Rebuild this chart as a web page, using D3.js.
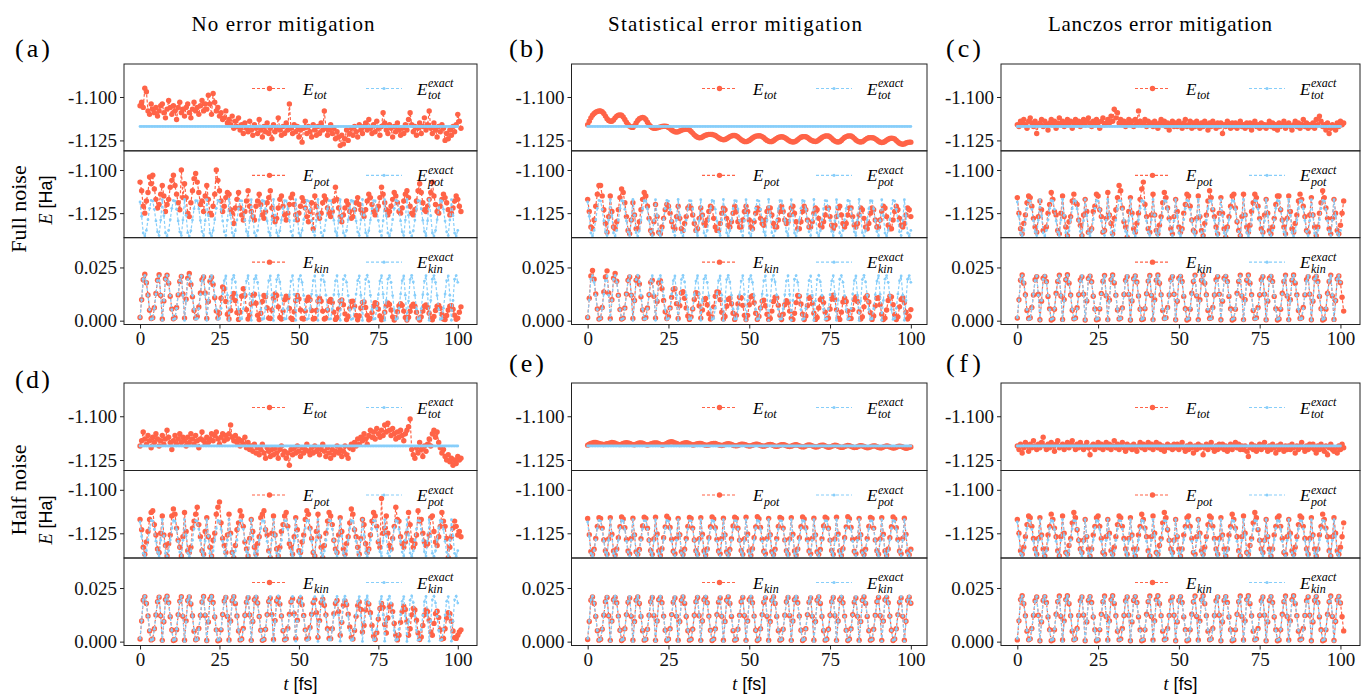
<!DOCTYPE html>
<html><head><meta charset="utf-8">
<script src="https://cdn.jsdelivr.net/npm/d3@7"></script>
<style>body{margin:0;background:#fff}svg{display:block}</style>
</head><body>
<script>
// ---------------- DATA (t step 0.5 fs, starting at t = 0) ----------------
const dt = 0.5;
const xTicks = [0, 25, 50, 75, 100];
const yTicksTot = [-1.100, -1.125], yTicksPot = [-1.100, -1.125], yTicksKin = [0.000, 0.025];
const colTitles = ["No error mitigation", "Statistical error mitigation", "Lanczos error mitigation"];
const rowTitles = ["Full noise", "Half noise"];
const panelLabels = ["(a)", "(b)", "(c)", "(d)", "(e)", "(f)"];

// exact (noise-free) reference, t = 0..100
const exactTot = [
-1.117,-1.117,-1.117,-1.117,-1.117,-1.117,-1.117,-1.117,-1.117,-1.117,-1.117,-1.117,-1.117,-1.117,
-1.117,-1.117,-1.117,-1.117,-1.117,-1.117,-1.117,-1.117,-1.117,-1.117,-1.117,-1.117,-1.117,-1.117,
-1.117,-1.117,-1.117,-1.117,-1.117,-1.117,-1.117,-1.117,-1.117,-1.117,-1.117,-1.117,-1.117,-1.117,
-1.117,-1.117,-1.117,-1.117,-1.117,-1.117,-1.117,-1.117,-1.117,-1.117,-1.117,-1.117,-1.117,-1.117,
-1.117,-1.117,-1.117,-1.117,-1.117,-1.117,-1.117,-1.117,-1.117,-1.117,-1.117,-1.117,-1.117,-1.117,
-1.117,-1.117,-1.117,-1.117,-1.117,-1.117,-1.117,-1.117,-1.117,-1.117,-1.117,-1.117,-1.117,-1.117,
-1.117,-1.117,-1.117,-1.117,-1.117,-1.117,-1.117,-1.117,-1.117,-1.117,-1.117,-1.117,-1.117,-1.117,
-1.117,-1.117,-1.117,-1.117,-1.117,-1.117,-1.117,-1.117,-1.117,-1.117,-1.117,-1.117,-1.117,-1.117,
-1.117,-1.117,-1.117,-1.117,-1.117,-1.117,-1.117,-1.117,-1.117,-1.117,-1.117,-1.117,-1.117,-1.117,
-1.117,-1.117,-1.117,-1.117,-1.117,-1.117,-1.117,-1.117,-1.117,-1.117,-1.117,-1.117,-1.117,-1.117,
-1.117,-1.117,-1.117,-1.117,-1.117,-1.117,-1.117,-1.117,-1.117,-1.117,-1.117,-1.117,-1.117,-1.117,
-1.117,-1.117,-1.117,-1.117,-1.117,-1.117,-1.117,-1.117,-1.117,-1.117,-1.117,-1.117,-1.117,-1.117,
-1.117,-1.117,-1.117,-1.117,-1.117,-1.117,-1.117,-1.117,-1.117,-1.117,-1.117,-1.117,-1.117,-1.117,
-1.117,-1.117,-1.117,-1.117,-1.117,-1.117,-1.117,-1.117,-1.117,-1.117,-1.117,-1.117,-1.117,-1.117,
-1.117,-1.117,-1.117,-1.117,-1.117];
const exactKin = [
0.0015,0.0098,0.0195,0.0212,0.0180,0.0118,0.0052,0.0006,0.0010,0.0058,0.0125,0.0188,0.0210,0.0120,
0.0002,0.0095,0.0195,0.0212,0.0180,0.0118,0.0052,0.0006,0.0010,0.0058,0.0125,0.0188,0.0210,0.0120,
0.0001,0.0092,0.0193,0.0213,0.0182,0.0120,0.0054,0.0007,0.0009,0.0056,0.0122,0.0186,0.0211,0.0124,
0.0002,0.0095,0.0195,0.0212,0.0180,0.0118,0.0052,0.0006,0.0010,0.0058,0.0125,0.0188,0.0210,0.0120,
0.0001,0.0092,0.0193,0.0213,0.0182,0.0120,0.0054,0.0007,0.0009,0.0056,0.0122,0.0186,0.0211,0.0124,
0.0002,0.0095,0.0195,0.0212,0.0180,0.0118,0.0052,0.0006,0.0010,0.0058,0.0125,0.0188,0.0210,0.0120,
0.0001,0.0092,0.0193,0.0213,0.0182,0.0120,0.0054,0.0007,0.0009,0.0056,0.0122,0.0186,0.0211,0.0124,
0.0002,0.0095,0.0195,0.0212,0.0180,0.0118,0.0052,0.0006,0.0010,0.0058,0.0125,0.0188,0.0210,0.0120,
0.0001,0.0092,0.0193,0.0213,0.0182,0.0120,0.0054,0.0007,0.0009,0.0056,0.0122,0.0186,0.0211,0.0124,
0.0002,0.0095,0.0195,0.0212,0.0180,0.0118,0.0052,0.0006,0.0010,0.0058,0.0125,0.0188,0.0210,0.0120,
0.0001,0.0092,0.0193,0.0213,0.0182,0.0120,0.0054,0.0007,0.0009,0.0056,0.0122,0.0186,0.0211,0.0124,
0.0002,0.0095,0.0195,0.0212,0.0180,0.0118,0.0052,0.0006,0.0010,0.0058,0.0125,0.0188,0.0210,0.0120,
0.0001,0.0092,0.0193,0.0213,0.0182,0.0120,0.0054,0.0007,0.0009,0.0056,0.0122,0.0186,0.0211,0.0124,
0.0002,0.0095,0.0195,0.0212,0.0180,0.0118,0.0052,0.0006,0.0010,0.0058,0.0125,0.0188,0.0210,0.0120,
0.0002,0.0095,0.0195,0.0212,0.0180];
const exactPot = [
-1.1185,-1.1268,-1.1365,-1.1382,-1.1350,-1.1288,-1.1222,-1.1176,-1.1180,-1.1228,-1.1295,-1.1358,-1.1380,-1.1290,
-1.1172,-1.1265,-1.1365,-1.1382,-1.1350,-1.1288,-1.1222,-1.1176,-1.1180,-1.1228,-1.1295,-1.1358,-1.1380,-1.1290,
-1.1171,-1.1262,-1.1363,-1.1383,-1.1352,-1.1290,-1.1224,-1.1177,-1.1179,-1.1226,-1.1292,-1.1356,-1.1381,-1.1294,
-1.1172,-1.1265,-1.1365,-1.1382,-1.1350,-1.1288,-1.1222,-1.1176,-1.1180,-1.1228,-1.1295,-1.1358,-1.1380,-1.1290,
-1.1171,-1.1262,-1.1363,-1.1383,-1.1352,-1.1290,-1.1224,-1.1177,-1.1179,-1.1226,-1.1292,-1.1356,-1.1381,-1.1294,
-1.1172,-1.1265,-1.1365,-1.1382,-1.1350,-1.1288,-1.1222,-1.1176,-1.1180,-1.1228,-1.1295,-1.1358,-1.1380,-1.1290,
-1.1171,-1.1262,-1.1363,-1.1383,-1.1352,-1.1290,-1.1224,-1.1177,-1.1179,-1.1226,-1.1292,-1.1356,-1.1381,-1.1294,
-1.1172,-1.1265,-1.1365,-1.1382,-1.1350,-1.1288,-1.1222,-1.1176,-1.1180,-1.1228,-1.1295,-1.1358,-1.1380,-1.1290,
-1.1171,-1.1262,-1.1363,-1.1383,-1.1352,-1.1290,-1.1224,-1.1177,-1.1179,-1.1226,-1.1292,-1.1356,-1.1381,-1.1294,
-1.1172,-1.1265,-1.1365,-1.1382,-1.1350,-1.1288,-1.1222,-1.1176,-1.1180,-1.1228,-1.1295,-1.1358,-1.1380,-1.1290,
-1.1171,-1.1262,-1.1363,-1.1383,-1.1352,-1.1290,-1.1224,-1.1177,-1.1179,-1.1226,-1.1292,-1.1356,-1.1381,-1.1294,
-1.1172,-1.1265,-1.1365,-1.1382,-1.1350,-1.1288,-1.1222,-1.1176,-1.1180,-1.1228,-1.1295,-1.1358,-1.1380,-1.1290,
-1.1171,-1.1262,-1.1363,-1.1383,-1.1352,-1.1290,-1.1224,-1.1177,-1.1179,-1.1226,-1.1292,-1.1356,-1.1381,-1.1294,
-1.1172,-1.1265,-1.1365,-1.1382,-1.1350,-1.1288,-1.1222,-1.1176,-1.1180,-1.1228,-1.1295,-1.1358,-1.1380,-1.1290,
-1.1172,-1.1265,-1.1365,-1.1382,-1.1350];

// (a) full noise, no mitigation, t = 0..101
const aTot = [
-1.105,-1.103,-1.106,-1.095,-1.097,-1.108,-1.110,-1.104,-1.107,-1.109,-1.106,-1.111,-1.108,-1.105,
-1.104,-1.109,-1.112,-1.107,-1.102,-1.106,-1.110,-1.105,-1.108,-1.113,-1.106,-1.103,-1.109,-1.107,
-1.111,-1.106,-1.104,-1.109,-1.112,-1.107,-1.103,-1.108,-1.106,-1.110,-1.105,-1.102,-1.108,-1.104,
-1.107,-1.099,-1.104,-1.110,-1.098,-1.103,-1.108,-1.106,-1.111,-1.109,-1.113,-1.112,-1.108,-1.115,
-1.113,-1.116,-1.111,-1.118,-1.114,-1.117,-1.112,-1.119,-1.116,-1.121,-1.115,-1.118,-1.120,-1.114,
-1.119,-1.122,-1.116,-1.118,-1.121,-1.113,-1.119,-1.123,-1.117,-1.120,-1.115,-1.121,-1.118,-1.124,
-1.116,-1.120,-1.118,-1.112,-1.119,-1.122,-1.117,-1.121,-1.115,-1.119,-1.104,-1.118,-1.121,-1.116,
-1.120,-1.117,-1.123,-1.119,-1.126,-1.118,-1.114,-1.121,-1.117,-1.120,-1.123,-1.116,-1.119,-1.122,
-1.117,-1.121,-1.115,-1.119,-1.108,-1.118,-1.122,-1.119,-1.116,-1.121,-1.118,-1.124,-1.120,-1.123,
-1.128,-1.122,-1.127,-1.124,-1.119,-1.125,-1.121,-1.118,-1.122,-1.117,-1.120,-1.123,-1.116,-1.119,
-1.121,-1.117,-1.115,-1.119,-1.113,-1.118,-1.121,-1.116,-1.120,-1.114,-1.118,-1.122,-1.117,-1.109,
-1.115,-1.119,-1.121,-1.116,-1.118,-1.123,-1.117,-1.120,-1.115,-1.119,-1.122,-1.118,-1.121,-1.116,
-1.119,-1.113,-1.109,-1.116,-1.120,-1.117,-1.122,-1.118,-1.115,-1.121,-1.117,-1.112,-1.119,-1.116,
-1.108,-1.118,-1.121,-1.115,-1.119,-1.123,-1.117,-1.120,-1.116,-1.118,-1.125,-1.121,-1.124,-1.119,
-1.122,-1.117,-1.120,-1.116,-1.110,-1.114,-1.118];
const aPot = [
-1.107,-1.112,-1.121,-1.125,-1.118,-1.113,-1.104,-1.108,-1.103,-1.111,-1.117,-1.122,-1.120,-1.114,
-1.109,-1.115,-1.124,-1.120,-1.117,-1.110,-1.106,-1.103,-1.109,-1.114,-1.119,-1.123,-1.100,-1.116,
-1.108,-1.116,-1.125,-1.127,-1.119,-1.112,-1.105,-1.102,-1.107,-1.113,-1.120,-1.118,-1.124,-1.115,
-1.109,-1.117,-1.125,-1.126,-1.121,-1.114,-1.100,-1.106,-1.112,-1.118,-1.124,-1.121,-1.116,-1.113,
-1.114,-1.123,-1.125,-1.131,-1.122,-1.117,-1.113,-1.122,-1.126,-1.129,-1.124,-1.118,-1.112,-1.121,
-1.124,-1.127,-1.129,-1.121,-1.118,-1.114,-1.120,-1.126,-1.128,-1.124,-1.119,-1.116,-1.112,-1.122,
-1.127,-1.130,-1.128,-1.122,-1.117,-1.115,-1.121,-1.126,-1.129,-1.125,-1.120,-1.116,-1.114,-1.120,
-1.126,-1.129,-1.125,-1.121,-1.116,-1.118,-1.122,-1.127,-1.130,-1.124,-1.119,-1.134,-1.115,-1.121,
-1.126,-1.128,-1.125,-1.119,-1.115,-1.117,-1.122,-1.125,-1.127,-1.124,-1.118,-1.110,-1.117,-1.122,
-1.127,-1.130,-1.126,-1.122,-1.118,-1.120,-1.124,-1.128,-1.127,-1.123,-1.119,-1.116,-1.120,-1.123,
-1.125,-1.127,-1.123,-1.118,-1.114,-1.116,-1.120,-1.124,-1.126,-1.123,-1.121,-1.116,-1.110,-1.114,
-1.119,-1.123,-1.126,-1.124,-1.121,-1.117,-1.113,-1.115,-1.119,-1.124,-1.125,-1.122,-1.118,-1.114,
-1.112,-1.116,-1.121,-1.125,-1.126,-1.123,-1.118,-1.112,-1.108,-1.113,-1.119,-1.123,-1.124,-1.121,
-1.117,-1.113,-1.107,-1.115,-1.120,-1.124,-1.125,-1.121,-1.117,-1.114,-1.116,-1.119,-1.123,-1.126,
-1.125,-1.122,-1.118,-1.115,-1.117,-1.121,-1.124];
const aKin = [
0.0015,0.0098,0.0192,0.0218,0.0178,0.0121,0.0049,0.0010,0.0014,0.0061,0.0128,0.0190,0.0216,0.0118,
0.0008,0.0092,0.0197,0.0214,0.0176,0.0115,0.0055,0.0009,0.0015,0.0062,0.0121,0.0184,0.0208,0.0125,
0.0012,0.0101,0.0200,0.0222,0.0170,0.0112,0.0048,0.0012,0.0020,0.0064,0.0130,0.0192,0.0205,0.0130,
0.0010,0.0090,0.0185,0.0204,0.0170,0.0108,0.0045,0.0012,0.0035,0.0105,0.0158,0.0150,0.0090,0.0030,
0.0008,0.0048,0.0110,0.0128,0.0095,0.0038,0.0006,0.0040,0.0115,0.0150,0.0118,0.0052,0.0008,0.0025,
0.0078,0.0120,0.0124,0.0082,0.0025,0.0005,0.0035,0.0090,0.0118,0.0112,0.0060,0.0012,0.0010,0.0050,
0.0105,0.0125,0.0118,0.0065,0.0015,0.0008,0.0045,0.0098,0.0115,0.0108,0.0058,0.0012,0.0006,0.0042,
0.0095,0.0118,0.0102,0.0050,0.0010,0.0008,0.0045,0.0095,0.0110,0.0098,0.0048,0.0008,0.0010,0.0048,
0.0092,0.0105,0.0092,0.0045,0.0008,0.0012,0.0050,0.0090,0.0100,0.0085,0.0040,0.0006,0.0015,0.0055,
0.0092,0.0097,0.0075,0.0032,0.0005,0.0020,0.0058,0.0090,0.0092,0.0068,0.0025,0.0004,0.0022,0.0060,
0.0086,0.0088,0.0062,0.0025,0.0004,0.0010,0.0038,0.0068,0.0084,0.0080,0.0055,0.0022,0.0004,0.0012,
0.0040,0.0070,0.0083,0.0076,0.0050,0.0018,0.0003,0.0014,0.0042,0.0070,0.0080,0.0072,0.0045,0.0015,
0.0003,0.0016,0.0044,0.0068,0.0077,0.0068,0.0040,0.0012,0.0003,0.0018,0.0045,0.0068,0.0074,0.0062,
0.0035,0.0010,0.0004,0.0020,0.0048,0.0068,0.0072,0.0058,0.0030,0.0008,0.0005,0.0024,0.0050,0.0068,
0.0070,0.0054,0.0026,0.0007,0.0012,0.0040,0.0065];

// (b) full noise, statistical mitigation, t = 0..100
const bTot = [
-1.1160,-1.1140,-1.1120,-1.1105,-1.1095,-1.1088,-1.1083,-1.1080,-1.1080,-1.1085,-1.1095,-1.1110,-1.1125,-1.1135,
-1.1140,-1.1140,-1.1132,-1.1120,-1.1110,-1.1105,-1.1103,-1.1105,-1.1115,-1.1130,-1.1145,-1.1158,-1.1168,-1.1174,
-1.1175,-1.1165,-1.1150,-1.1135,-1.1125,-1.1120,-1.1118,-1.1120,-1.1130,-1.1145,-1.1160,-1.1170,-1.1177,-1.1180,
-1.1180,-1.1178,-1.1175,-1.1172,-1.1170,-1.1168,-1.1168,-1.1170,-1.1175,-1.1182,-1.1190,-1.1196,-1.1200,-1.1202,
-1.1200,-1.1196,-1.1192,-1.1188,-1.1186,-1.1185,-1.1186,-1.1190,-1.1198,-1.1208,-1.1218,-1.1226,-1.1232,-1.1235,
-1.1234,-1.1230,-1.1225,-1.1220,-1.1217,-1.1215,-1.1215,-1.1216,-1.1218,-1.1222,-1.1228,-1.1234,-1.1240,-1.1244,
-1.1246,-1.1245,-1.1240,-1.1234,-1.1228,-1.1224,-1.1222,-1.1222,-1.1224,-1.1230,-1.1238,-1.1246,-1.1252,-1.1256,
-1.1257,-1.1255,-1.1250,-1.1243,-1.1236,-1.1230,-1.1226,-1.1224,-1.1223,-1.1224,-1.1228,-1.1235,-1.1243,-1.1250,
-1.1255,-1.1257,-1.1256,-1.1252,-1.1245,-1.1238,-1.1233,-1.1230,-1.1229,-1.1230,-1.1234,-1.1240,-1.1247,-1.1253,
-1.1257,-1.1259,-1.1258,-1.1253,-1.1246,-1.1238,-1.1232,-1.1229,-1.1228,-1.1229,-1.1233,-1.1240,-1.1247,-1.1252,
-1.1255,-1.1256,-1.1254,-1.1248,-1.1240,-1.1233,-1.1228,-1.1225,-1.1224,-1.1225,-1.1230,-1.1238,-1.1247,-1.1254,
-1.1258,-1.1259,-1.1257,-1.1250,-1.1241,-1.1233,-1.1228,-1.1225,-1.1224,-1.1225,-1.1230,-1.1238,-1.1247,-1.1254,
-1.1258,-1.1259,-1.1257,-1.1251,-1.1244,-1.1238,-1.1235,-1.1234,-1.1234,-1.1236,-1.1241,-1.1248,-1.1255,-1.1260,
-1.1262,-1.1261,-1.1256,-1.1249,-1.1243,-1.1239,-1.1237,-1.1238,-1.1242,-1.1250,-1.1259,-1.1266,-1.1270,-1.1272,
-1.1270,-1.1265,-1.1262,-1.1260,-1.1260];
const bPot = [
-1.117,-1.124,-1.133,-1.134,-1.129,-1.121,-1.114,-1.109,-1.109,-1.115,-1.123,-1.131,-1.136,-1.127,
-1.115,-1.124,-1.133,-1.134,-1.130,-1.123,-1.116,-1.111,-1.113,-1.119,-1.127,-1.135,-1.137,-1.129,
-1.119,-1.126,-1.134,-1.134,-1.130,-1.123,-1.117,-1.113,-1.115,-1.121,-1.128,-1.135,-1.137,-1.130,
-1.120,-1.127,-1.136,-1.137,-1.133,-1.128,-1.123,-1.120,-1.121,-1.125,-1.130,-1.133,-1.134,-1.127,
-1.121,-1.128,-1.134,-1.135,-1.131,-1.127,-1.122,-1.121,-1.122,-1.126,-1.131,-1.135,-1.134,-1.128,
-1.122,-1.126,-1.131,-1.132,-1.129,-1.124,-1.121,-1.122,-1.128,-1.133,-1.135,-1.135,-1.131,-1.125,
-1.122,-1.123,-1.128,-1.132,-1.133,-1.130,-1.125,-1.121,-1.124,-1.130,-1.133,-1.133,-1.129,-1.124,
-1.121,-1.124,-1.129,-1.133,-1.134,-1.130,-1.125,-1.122,-1.123,-1.128,-1.131,-1.132,-1.129,-1.124,
-1.122,-1.122,-1.126,-1.131,-1.133,-1.133,-1.129,-1.124,-1.121,-1.124,-1.129,-1.131,-1.130,-1.126,
-1.122,-1.121,-1.125,-1.130,-1.134,-1.134,-1.130,-1.124,-1.121,-1.123,-1.129,-1.133,-1.133,-1.130,
-1.125,-1.122,-1.123,-1.128,-1.132,-1.133,-1.130,-1.126,-1.122,-1.122,-1.127,-1.132,-1.134,-1.132,
-1.127,-1.122,-1.121,-1.126,-1.131,-1.133,-1.131,-1.126,-1.122,-1.122,-1.127,-1.132,-1.133,-1.131,
-1.126,-1.122,-1.123,-1.128,-1.133,-1.134,-1.131,-1.125,-1.122,-1.123,-1.129,-1.133,-1.133,-1.129,
-1.124,-1.121,-1.122,-1.127,-1.132,-1.134,-1.134,-1.129,-1.124,-1.121,-1.123,-1.128,-1.132,-1.133,
-1.131,-1.126,-1.122,-1.123,-1.127];
const bKin = [
0.0015,0.0105,0.0210,0.0236,0.0195,0.0125,0.0055,0.0008,0.0012,0.0062,0.0135,0.0205,0.0234,0.0130,
0.0010,0.0098,0.0200,0.0222,0.0185,0.0120,0.0052,0.0008,0.0012,0.0060,0.0125,0.0190,0.0205,0.0120,
0.0010,0.0095,0.0190,0.0206,0.0172,0.0112,0.0050,0.0010,0.0015,0.0060,0.0122,0.0180,0.0190,0.0115,
0.0012,0.0090,0.0178,0.0188,0.0150,0.0095,0.0042,0.0010,0.0020,0.0060,0.0110,0.0148,0.0150,0.0080,
0.0010,0.0070,0.0130,0.0136,0.0105,0.0060,0.0022,0.0006,0.0018,0.0055,0.0100,0.0132,0.0128,0.0070,
0.0012,0.0050,0.0098,0.0104,0.0075,0.0032,0.0008,0.0018,0.0065,0.0115,0.0135,0.0134,0.0098,0.0040,
0.0008,0.0020,0.0068,0.0100,0.0105,0.0080,0.0035,0.0006,0.0025,0.0078,0.0110,0.0108,0.0072,0.0025,
0.0005,0.0025,0.0075,0.0112,0.0117,0.0085,0.0035,0.0006,0.0020,0.0060,0.0092,0.0096,0.0070,0.0030,
0.0006,0.0010,0.0045,0.0090,0.0110,0.0108,0.0072,0.0025,0.0005,0.0030,0.0075,0.0094,0.0085,0.0045,
0.0012,0.0006,0.0035,0.0085,0.0118,0.0115,0.0078,0.0030,0.0005,0.0022,0.0070,0.0105,0.0110,0.0080,
0.0035,0.0006,0.0015,0.0060,0.0098,0.0108,0.0085,0.0040,0.0008,0.0012,0.0055,0.0102,0.0120,0.0100,
0.0052,0.0012,0.0006,0.0040,0.0088,0.0105,0.0090,0.0045,0.0010,0.0010,0.0052,0.0098,0.0112,0.0090,
0.0042,0.0008,0.0018,0.0065,0.0108,0.0117,0.0088,0.0038,0.0006,0.0022,0.0070,0.0105,0.0108,0.0075,
0.0030,0.0005,0.0012,0.0050,0.0095,0.0115,0.0112,0.0075,0.0028,0.0005,0.0018,0.0065,0.0100,0.0108,
0.0085,0.0040,0.0008,0.0020,0.0052];

// (c) full noise, Lanczos mitigation, t = 0..101
const cTot = [
-1.116,-1.117,-1.114,-1.115,-1.113,-1.116,-1.118,-1.114,-1.112,-1.115,-1.117,-1.114,-1.121,-1.116,
-1.115,-1.113,-1.117,-1.114,-1.116,-1.119,-1.115,-1.113,-1.116,-1.114,-1.118,-1.115,-1.112,-1.116,
-1.114,-1.117,-1.115,-1.113,-1.116,-1.114,-1.118,-1.115,-1.113,-1.116,-1.114,-1.117,-1.115,-1.113,
-1.116,-1.114,-1.112,-1.115,-1.117,-1.114,-1.116,-1.113,-1.115,-1.118,-1.114,-1.112,-1.116,-1.115,
-1.113,-1.115,-1.111,-1.114,-1.107,-1.112,-1.109,-1.115,-1.113,-1.116,-1.114,-1.117,-1.115,-1.113,
-1.116,-1.114,-1.117,-1.113,-1.115,-1.108,-1.114,-1.116,-1.115,-1.113,-1.117,-1.114,-1.116,-1.115,
-1.117,-1.114,-1.116,-1.118,-1.115,-1.113,-1.116,-1.114,-1.117,-1.115,-1.119,-1.116,-1.114,-1.117,
-1.115,-1.117,-1.114,-1.116,-1.118,-1.115,-1.113,-1.117,-1.116,-1.114,-1.118,-1.115,-1.117,-1.114,
-1.116,-1.118,-1.115,-1.117,-1.114,-1.116,-1.119,-1.115,-1.117,-1.114,-1.116,-1.118,-1.115,-1.117,
-1.115,-1.121,-1.116,-1.117,-1.114,-1.116,-1.118,-1.115,-1.117,-1.115,-1.118,-1.116,-1.114,-1.117,
-1.116,-1.118,-1.115,-1.117,-1.115,-1.119,-1.116,-1.114,-1.117,-1.116,-1.118,-1.115,-1.117,-1.116,
-1.118,-1.116,-1.114,-1.117,-1.115,-1.118,-1.116,-1.119,-1.115,-1.117,-1.116,-1.114,-1.118,-1.116,
-1.115,-1.117,-1.119,-1.116,-1.114,-1.117,-1.115,-1.118,-1.116,-1.113,-1.117,-1.115,-1.118,-1.116,
-1.117,-1.115,-1.118,-1.113,-1.116,-1.111,-1.114,-1.117,-1.116,-1.119,-1.115,-1.121,-1.118,-1.116,
-1.117,-1.119,-1.115,-1.117,-1.114,-1.116,-1.115];
const cPot = [
-1.116,-1.125,-1.134,-1.137,-1.131,-1.126,-1.119,-1.115,-1.116,-1.121,-1.128,-1.133,-1.136,-1.127,
-1.118,-1.123,-1.135,-1.134,-1.133,-1.125,-1.120,-1.113,-1.117,-1.124,-1.126,-1.135,-1.137,-1.125,
-1.115,-1.127,-1.133,-1.138,-1.130,-1.127,-1.118,-1.114,-1.119,-1.120,-1.129,-1.132,-1.138,-1.126,
-1.117,-1.124,-1.136,-1.135,-1.134,-1.124,-1.121,-1.114,-1.115,-1.123,-1.127,-1.136,-1.135,-1.128,
-1.113,-1.126,-1.131,-1.137,-1.128,-1.123,-1.116,-1.109,-1.112,-1.122,-1.130,-1.133,-1.139,-1.124,
-1.116,-1.125,-1.134,-1.136,-1.131,-1.125,-1.117,-1.111,-1.107,-1.120,-1.127,-1.134,-1.136,-1.126,
-1.114,-1.126,-1.135,-1.137,-1.132,-1.127,-1.119,-1.113,-1.116,-1.122,-1.128,-1.134,-1.137,-1.127,
-1.117,-1.124,-1.133,-1.136,-1.134,-1.125,-1.120,-1.114,-1.115,-1.121,-1.129,-1.135,-1.136,-1.128,
-1.115,-1.127,-1.135,-1.138,-1.131,-1.126,-1.118,-1.112,-1.116,-1.123,-1.127,-1.133,-1.137,-1.125,
-1.116,-1.125,-1.134,-1.139,-1.133,-1.127,-1.121,-1.115,-1.114,-1.122,-1.130,-1.135,-1.138,-1.127,
-1.114,-1.126,-1.133,-1.136,-1.132,-1.124,-1.119,-1.114,-1.116,-1.121,-1.128,-1.134,-1.136,-1.126,
-1.117,-1.125,-1.135,-1.137,-1.133,-1.128,-1.120,-1.115,-1.115,-1.123,-1.129,-1.133,-1.137,-1.128,
-1.115,-1.124,-1.134,-1.136,-1.131,-1.126,-1.118,-1.114,-1.117,-1.121,-1.127,-1.135,-1.136,-1.126,
-1.116,-1.126,-1.133,-1.138,-1.133,-1.125,-1.119,-1.112,-1.116,-1.122,-1.128,-1.134,-1.137,-1.128,
-1.117,-1.125,-1.135,-1.137,-1.132,-1.125,-1.118];
const cKin = [
0.0012,0.0098,0.0190,0.0215,0.0176,0.0122,0.0048,0.0010,0.0014,0.0062,0.0121,0.0192,0.0207,0.0124,
0.0004,0.0091,0.0199,0.0208,0.0184,0.0114,0.0056,0.0003,0.0008,0.0054,0.0129,0.0184,0.0214,0.0116,
0.0006,0.0099,0.0192,0.0216,0.0176,0.0121,0.0049,0.0009,0.0013,0.0061,0.0122,0.0191,0.0206,0.0124,
0.0003,0.0092,0.0198,0.0209,0.0183,0.0115,0.0055,0.0004,0.0007,0.0055,0.0128,0.0185,0.0213,0.0117,
0.0005,0.0097,0.0193,0.0215,0.0177,0.0120,0.0050,0.0008,0.0012,0.0060,0.0123,0.0190,0.0207,0.0123,
0.0003,0.0093,0.0197,0.0210,0.0182,0.0116,0.0054,0.0005,0.0008,0.0056,0.0127,0.0186,0.0212,0.0118,
0.0005,0.0098,0.0190,0.0215,0.0176,0.0122,0.0048,0.0010,0.0014,0.0062,0.0121,0.0192,0.0207,0.0124,
0.0004,0.0091,0.0199,0.0208,0.0184,0.0114,0.0056,0.0003,0.0008,0.0054,0.0129,0.0184,0.0214,0.0116,
0.0005,0.0098,0.0190,0.0215,0.0176,0.0122,0.0048,0.0010,0.0014,0.0062,0.0121,0.0192,0.0207,0.0124,
0.0004,0.0091,0.0199,0.0208,0.0184,0.0114,0.0056,0.0003,0.0008,0.0054,0.0129,0.0184,0.0214,0.0116,
0.0005,0.0098,0.0190,0.0215,0.0176,0.0122,0.0048,0.0010,0.0014,0.0062,0.0121,0.0192,0.0207,0.0124,
0.0004,0.0091,0.0199,0.0208,0.0184,0.0114,0.0056,0.0003,0.0008,0.0054,0.0129,0.0184,0.0214,0.0116,
0.0005,0.0098,0.0190,0.0215,0.0176,0.0122,0.0048,0.0010,0.0014,0.0062,0.0121,0.0192,0.0207,0.0124,
0.0004,0.0091,0.0199,0.0208,0.0184,0.0114,0.0056,0.0003,0.0008,0.0054,0.0129,0.0184,0.0214,0.0116,
0.0006,0.0094,0.0196,0.0210,0.0178,0.0110,0.0045];

// (d) half noise, no mitigation, t = 0..101
const dTot = [
-1.117,-1.114,-1.109,-1.113,-1.116,-1.111,-1.114,-1.118,-1.112,-1.115,-1.110,-1.113,-1.117,-1.114,
-1.111,-1.116,-1.113,-1.108,-1.112,-1.115,-1.119,-1.114,-1.111,-1.116,-1.113,-1.110,-1.115,-1.112,
-1.114,-1.117,-1.112,-1.115,-1.110,-1.113,-1.116,-1.111,-1.114,-1.118,-1.113,-1.109,-1.114,-1.116,
-1.112,-1.115,-1.113,-1.110,-1.114,-1.111,-1.109,-1.113,-1.116,-1.112,-1.110,-1.114,-1.111,-1.113,
-1.110,-1.105,-1.112,-1.114,-1.111,-1.115,-1.113,-1.117,-1.114,-1.116,-1.112,-1.118,-1.115,-1.119,
-1.117,-1.120,-1.116,-1.121,-1.118,-1.122,-1.119,-1.116,-1.121,-1.124,-1.118,-1.120,-1.123,-1.119,
-1.122,-1.118,-1.121,-1.124,-1.119,-1.117,-1.122,-1.120,-1.124,-1.121,-1.128,-1.119,-1.122,-1.118,
-1.121,-1.117,-1.120,-1.123,-1.118,-1.121,-1.119,-1.116,-1.120,-1.122,-1.118,-1.121,-1.117,-1.120,
-1.118,-1.122,-1.119,-1.116,-1.120,-1.123,-1.118,-1.121,-1.124,-1.119,-1.122,-1.120,-1.117,-1.121,
-1.119,-1.123,-1.120,-1.117,-1.122,-1.124,-1.118,-1.116,-1.119,-1.115,-1.117,-1.113,-1.116,-1.112,
-1.114,-1.110,-1.113,-1.116,-1.111,-1.108,-1.112,-1.109,-1.113,-1.107,-1.110,-1.112,-1.108,-1.111,
-1.105,-1.109,-1.104,-1.108,-1.111,-1.107,-1.110,-1.113,-1.109,-1.112,-1.108,-1.111,-1.114,-1.110,
-1.108,-1.106,-1.1015,-1.119,-1.122,-1.124,-1.118,-1.121,-1.115,-1.119,-1.123,-1.117,-1.120,-1.116,
-1.113,-1.117,-1.110,-1.108,-1.112,-1.109,-1.115,-1.118,-1.121,-1.119,-1.123,-1.125,-1.122,-1.126,
-1.124,-1.128,-1.125,-1.127,-1.123,-1.125,-1.124];
const dPot = [
-1.117,-1.123,-1.133,-1.137,-1.130,-1.124,-1.117,-1.113,-1.112,-1.120,-1.126,-1.134,-1.136,-1.125,
-1.115,-1.126,-1.132,-1.138,-1.131,-1.126,-1.115,-1.111,-1.114,-1.122,-1.129,-1.133,-1.138,-1.127,
-1.113,-1.124,-1.135,-1.136,-1.133,-1.122,-1.118,-1.114,-1.110,-1.120,-1.127,-1.135,-1.137,-1.124,
-1.116,-1.127,-1.133,-1.138,-1.129,-1.125,-1.114,-1.110,-1.107,-1.119,-1.128,-1.132,-1.136,-1.126,
-1.114,-1.125,-1.136,-1.139,-1.132,-1.123,-1.119,-1.112,-1.115,-1.121,-1.130,-1.134,-1.138,-1.128,
-1.117,-1.124,-1.133,-1.137,-1.131,-1.127,-1.116,-1.114,-1.112,-1.123,-1.126,-1.135,-1.139,-1.125,
-1.115,-1.126,-1.134,-1.138,-1.133,-1.124,-1.120,-1.115,-1.113,-1.121,-1.131,-1.133,-1.137,-1.127,
-1.116,-1.123,-1.135,-1.136,-1.130,-1.126,-1.117,-1.112,-1.114,-1.122,-1.128,-1.136,-1.138,-1.124,
-1.114,-1.127,-1.133,-1.139,-1.132,-1.125,-1.118,-1.113,-1.115,-1.120,-1.129,-1.134,-1.136,-1.126,
-1.116,-1.124,-1.134,-1.137,-1.131,-1.127,-1.119,-1.111,-1.114,-1.123,-1.127,-1.133,-1.137,-1.128,
-1.117,-1.120,-1.131,-1.136,-1.134,-1.126,-1.118,-1.113,-1.115,-1.121,-1.130,-1.133,-1.105,-1.125,
-1.122,-1.115,-1.125,-1.132,-1.134,-1.128,-1.121,-1.110,-1.117,-1.118,-1.127,-1.131,-1.133,-1.130,
-1.125,-1.113,-1.120,-1.129,-1.133,-1.131,-1.126,-1.112,-1.118,-1.117,-1.125,-1.130,-1.132,-1.131,
-1.126,-1.116,-1.115,-1.124,-1.130,-1.132,-1.127,-1.121,-1.113,-1.118,-1.121,-1.128,-1.139,-1.133,
-1.127,-1.122,-1.118,-1.121,-1.126,-1.124,-1.127];
const dKin = [
0.0012,0.0096,0.0193,0.0210,0.0178,0.0120,0.0050,0.0008,0.0012,0.0060,0.0124,0.0186,0.0207,0.0121,
0.0006,0.0093,0.0196,0.0212,0.0182,0.0116,0.0054,0.0005,0.0009,0.0056,0.0126,0.0189,0.0209,0.0118,
0.0007,0.0097,0.0192,0.0208,0.0176,0.0121,0.0049,0.0009,0.0013,0.0061,0.0122,0.0185,0.0211,0.0122,
0.0005,0.0092,0.0198,0.0211,0.0183,0.0115,0.0055,0.0004,0.0008,0.0055,0.0127,0.0190,0.0206,0.0117,
0.0008,0.0096,0.0191,0.0209,0.0177,0.0120,0.0050,0.0008,0.0012,0.0062,0.0123,0.0184,0.0205,0.0124,
0.0006,0.0094,0.0195,0.0206,0.0180,0.0117,0.0053,0.0006,0.0010,0.0057,0.0126,0.0187,0.0203,0.0126,
0.0010,0.0098,0.0190,0.0205,0.0175,0.0120,0.0051,0.0009,0.0014,0.0063,0.0128,0.0185,0.0200,0.0130,
0.0015,0.0100,0.0188,0.0202,0.0172,0.0122,0.0055,0.0012,0.0016,0.0066,0.0128,0.0182,0.0196,0.0135,
0.0020,0.0098,0.0182,0.0198,0.0170,0.0125,0.0060,0.0015,0.0014,0.0060,0.0130,0.0178,0.0192,0.0140,
0.0030,0.0090,0.0170,0.0190,0.0172,0.0128,0.0068,0.0020,0.0012,0.0052,0.0118,0.0168,0.0185,0.0150,
0.0045,0.0075,0.0148,0.0180,0.0175,0.0135,0.0075,0.0025,0.0010,0.0042,0.0105,0.0155,0.0178,0.0160,
0.0080,0.0040,0.0110,0.0162,0.0172,0.0140,0.0085,0.0030,0.0008,0.0030,0.0090,0.0140,0.0165,0.0150,
0.0095,0.0030,0.0060,0.0125,0.0155,0.0148,0.0100,0.0040,0.0010,0.0022,0.0075,0.0125,0.0148,0.0140,
0.0100,0.0045,0.0030,0.0085,0.0130,0.0142,0.0112,0.0055,0.0012,0.0015,0.0060,0.0110,0.0135,0.0130,
0.0095,0.0050,0.0018,0.0015,0.0030,0.0045,0.0055];

// (e) half noise, statistical mitigation, t = 0..100
const eTot = [
-1.1165,-1.1160,-1.1155,-1.1152,-1.1150,-1.1150,-1.1152,-1.1155,-1.1158,-1.1160,-1.1162,-1.1160,-1.1157,-1.1155,
-1.1152,-1.1150,-1.1151,-1.1154,-1.1158,-1.1161,-1.1162,-1.1160,-1.1156,-1.1153,-1.1151,-1.1152,-1.1155,-1.1159,
-1.1162,-1.1163,-1.1160,-1.1156,-1.1153,-1.1152,-1.1154,-1.1158,-1.1162,-1.1164,-1.1162,-1.1158,-1.1155,-1.1153,
-1.1152,-1.1153,-1.1157,-1.1161,-1.1164,-1.1163,-1.1159,-1.1155,-1.1150,-1.1147,-1.1146,-1.1148,-1.1152,-1.1156,
-1.1160,-1.1162,-1.1160,-1.1156,-1.1153,-1.1151,-1.1153,-1.1157,-1.1161,-1.1164,-1.1163,-1.1160,-1.1157,-1.1155,
-1.1155,-1.1158,-1.1162,-1.1165,-1.1166,-1.1164,-1.1160,-1.1157,-1.1155,-1.1156,-1.1159,-1.1163,-1.1166,-1.1167,
-1.1165,-1.1161,-1.1158,-1.1157,-1.1158,-1.1161,-1.1165,-1.1168,-1.1169,-1.1167,-1.1163,-1.1160,-1.1159,-1.1161,
-1.1164,-1.1168,-1.1170,-1.1169,-1.1166,-1.1162,-1.1160,-1.1160,-1.1163,-1.1167,-1.1170,-1.1171,-1.1169,-1.1165,
-1.1162,-1.1161,-1.1163,-1.1167,-1.1171,-1.1172,-1.1170,-1.1166,-1.1163,-1.1162,-1.1164,-1.1168,-1.1172,-1.1173,
-1.1171,-1.1167,-1.1164,-1.1163,-1.1165,-1.1169,-1.1173,-1.1175,-1.1174,-1.1170,-1.1166,-1.1164,-1.1165,-1.1169,
-1.1173,-1.1176,-1.1175,-1.1171,-1.1167,-1.1165,-1.1166,-1.1170,-1.1174,-1.1177,-1.1176,-1.1172,-1.1168,-1.1166,
-1.1167,-1.1171,-1.1175,-1.1178,-1.1177,-1.1173,-1.1169,-1.1167,-1.1168,-1.1172,-1.1176,-1.1179,-1.1178,-1.1174,
-1.1170,-1.1168,-1.1169,-1.1173,-1.1177,-1.1180,-1.1179,-1.1175,-1.1171,-1.1169,-1.1170,-1.1174,-1.1178,-1.1181,
-1.1180,-1.1176,-1.1172,-1.1170,-1.1171,-1.1175,-1.1179,-1.1182,-1.1181,-1.1177,-1.1173,-1.1171,-1.1172,-1.1176,
-1.1180,-1.1183,-1.1182,-1.1178,-1.1175];
const ePot = [
-1.1165,-1.1258,-1.1355,-1.1372,-1.1342,-1.1280,-1.1210,-1.1160,-1.1165,-1.1220,-1.1288,-1.1350,-1.1370,-1.1282,
-1.1160,-1.1255,-1.1352,-1.1375,-1.1340,-1.1276,-1.1212,-1.1156,-1.1168,-1.1218,-1.1285,-1.1352,-1.1368,-1.1280,
-1.1163,-1.1259,-1.1356,-1.1371,-1.1343,-1.1281,-1.1208,-1.1158,-1.1164,-1.1221,-1.1289,-1.1349,-1.1371,-1.1283,
-1.1158,-1.1254,-1.1351,-1.1376,-1.1339,-1.1275,-1.1213,-1.1152,-1.1166,-1.1217,-1.1284,-1.1353,-1.1367,-1.1279,
-1.1164,-1.1258,-1.1355,-1.1372,-1.1342,-1.1280,-1.1210,-1.1159,-1.1165,-1.1220,-1.1288,-1.1350,-1.1370,-1.1282,
-1.1160,-1.1255,-1.1352,-1.1375,-1.1340,-1.1276,-1.1212,-1.1156,-1.1168,-1.1218,-1.1285,-1.1352,-1.1368,-1.1280,
-1.1163,-1.1259,-1.1356,-1.1371,-1.1343,-1.1281,-1.1208,-1.1158,-1.1164,-1.1221,-1.1289,-1.1349,-1.1371,-1.1283,
-1.1158,-1.1254,-1.1351,-1.1376,-1.1339,-1.1275,-1.1213,-1.1155,-1.1166,-1.1217,-1.1284,-1.1353,-1.1367,-1.1279,
-1.1164,-1.1258,-1.1355,-1.1372,-1.1342,-1.1280,-1.1210,-1.1159,-1.1165,-1.1220,-1.1288,-1.1350,-1.1370,-1.1282,
-1.1160,-1.1255,-1.1352,-1.1375,-1.1340,-1.1276,-1.1212,-1.1156,-1.1168,-1.1218,-1.1285,-1.1352,-1.1368,-1.1280,
-1.1163,-1.1259,-1.1356,-1.1371,-1.1343,-1.1281,-1.1208,-1.1158,-1.1164,-1.1221,-1.1289,-1.1349,-1.1371,-1.1283,
-1.1158,-1.1254,-1.1351,-1.1376,-1.1339,-1.1275,-1.1213,-1.1155,-1.1166,-1.1217,-1.1284,-1.1353,-1.1367,-1.1279,
-1.1164,-1.1258,-1.1355,-1.1372,-1.1342,-1.1280,-1.1210,-1.1159,-1.1165,-1.1220,-1.1288,-1.1350,-1.1370,-1.1282,
-1.1160,-1.1255,-1.1352,-1.1375,-1.1340,-1.1276,-1.1212,-1.1156,-1.1168,-1.1218,-1.1285,-1.1352,-1.1368,-1.1280,
-1.1163,-1.1256,-1.1354,-1.1373,-1.1341];
const eKin = [
0.0010,0.0094,0.0193,0.0208,0.0178,0.0117,0.0051,0.0007,0.0011,0.0058,0.0123,0.0186,0.0206,0.0121,
0.0006,0.0096,0.0195,0.0206,0.0181,0.0119,0.0053,0.0005,0.0012,0.0060,0.0126,0.0184,0.0204,0.0118,
0.0007,0.0094,0.0193,0.0208,0.0178,0.0117,0.0051,0.0007,0.0011,0.0058,0.0123,0.0186,0.0206,0.0121,
0.0006,0.0096,0.0195,0.0206,0.0181,0.0119,0.0053,0.0005,0.0012,0.0060,0.0126,0.0184,0.0204,0.0118,
0.0007,0.0094,0.0193,0.0208,0.0178,0.0117,0.0051,0.0007,0.0011,0.0058,0.0123,0.0186,0.0206,0.0121,
0.0006,0.0096,0.0195,0.0206,0.0181,0.0119,0.0053,0.0005,0.0012,0.0060,0.0126,0.0184,0.0204,0.0118,
0.0007,0.0094,0.0193,0.0208,0.0178,0.0117,0.0051,0.0007,0.0011,0.0058,0.0123,0.0186,0.0206,0.0121,
0.0006,0.0096,0.0195,0.0206,0.0181,0.0119,0.0053,0.0005,0.0012,0.0060,0.0126,0.0184,0.0204,0.0118,
0.0007,0.0094,0.0193,0.0208,0.0178,0.0117,0.0051,0.0007,0.0011,0.0058,0.0123,0.0186,0.0206,0.0121,
0.0006,0.0096,0.0195,0.0206,0.0181,0.0119,0.0053,0.0005,0.0012,0.0060,0.0126,0.0184,0.0204,0.0118,
0.0007,0.0094,0.0193,0.0208,0.0178,0.0117,0.0051,0.0007,0.0011,0.0058,0.0123,0.0186,0.0206,0.0121,
0.0006,0.0096,0.0195,0.0206,0.0181,0.0119,0.0053,0.0005,0.0012,0.0060,0.0126,0.0184,0.0204,0.0118,
0.0007,0.0094,0.0193,0.0208,0.0178,0.0117,0.0051,0.0007,0.0011,0.0058,0.0123,0.0186,0.0206,0.0121,
0.0006,0.0096,0.0195,0.0206,0.0181,0.0119,0.0053,0.0005,0.0012,0.0060,0.0126,0.0184,0.0204,0.0118,
0.0007,0.0095,0.0192,0.0207,0.0179];

// (f) half noise, Lanczos mitigation, t = 0..101
const fTot = [
-1.117,-1.119,-1.116,-1.121,-1.118,-1.115,-1.117,-1.120,-1.116,-1.118,-1.114,-1.117,-1.119,-1.116,
-1.118,-1.115,-1.112,-1.117,-1.119,-1.116,-1.118,-1.115,-1.117,-1.120,-1.116,-1.114,-1.118,-1.117,
-1.116,-1.119,-1.117,-1.115,-1.118,-1.116,-1.114,-1.117,-1.119,-1.116,-1.118,-1.115,-1.117,-1.119,
-1.117,-1.115,-1.118,-1.122,-1.117,-1.116,-1.119,-1.117,-1.115,-1.118,-1.116,-1.119,-1.117,-1.115,
-1.118,-1.116,-1.119,-1.117,-1.114,-1.118,-1.116,-1.119,-1.117,-1.115,-1.118,-1.120,-1.116,-1.118,
-1.117,-1.119,-1.116,-1.118,-1.120,-1.117,-1.115,-1.118,-1.116,-1.119,-1.117,-1.115,-1.118,-1.116,
-1.119,-1.117,-1.115,-1.118,-1.116,-1.119,-1.117,-1.120,-1.118,-1.116,-1.118,-1.117,-1.119,-1.116,
-1.118,-1.116,-1.119,-1.117,-1.115,-1.118,-1.120,-1.117,-1.119,-1.116,-1.118,-1.121,-1.117,-1.119,
-1.116,-1.118,-1.117,-1.122,-1.118,-1.116,-1.119,-1.117,-1.115,-1.118,-1.120,-1.117,-1.119,-1.116,
-1.118,-1.116,-1.119,-1.117,-1.120,-1.118,-1.116,-1.119,-1.117,-1.115,-1.118,-1.116,-1.119,-1.117,
-1.119,-1.117,-1.120,-1.123,-1.118,-1.116,-1.119,-1.117,-1.120,-1.118,-1.116,-1.119,-1.117,-1.115,
-1.118,-1.120,-1.117,-1.119,-1.116,-1.118,-1.121,-1.117,-1.119,-1.116,-1.118,-1.120,-1.117,-1.119,
-1.117,-1.119,-1.116,-1.118,-1.121,-1.117,-1.119,-1.117,-1.115,-1.118,-1.120,-1.117,-1.119,-1.116,
-1.118,-1.116,-1.119,-1.121,-1.117,-1.119,-1.116,-1.118,-1.120,-1.117,-1.122,-1.118,-1.116,-1.119,
-1.120,-1.118,-1.121,-1.117,-1.119,-1.116,-1.118];
const fPot = [
-1.117,-1.125,-1.135,-1.137,-1.133,-1.127,-1.120,-1.115,-1.116,-1.121,-1.128,-1.134,-1.137,-1.128,
-1.116,-1.126,-1.134,-1.138,-1.134,-1.126,-1.121,-1.114,-1.117,-1.122,-1.127,-1.135,-1.138,-1.127,
-1.115,-1.125,-1.136,-1.137,-1.132,-1.128,-1.119,-1.113,-1.116,-1.123,-1.129,-1.134,-1.136,-1.129,
-1.117,-1.127,-1.134,-1.138,-1.134,-1.126,-1.121,-1.116,-1.115,-1.121,-1.128,-1.136,-1.137,-1.127,
-1.117,-1.125,-1.135,-1.137,-1.133,-1.127,-1.120,-1.115,-1.116,-1.121,-1.128,-1.134,-1.137,-1.128,
-1.116,-1.126,-1.134,-1.138,-1.134,-1.126,-1.121,-1.114,-1.117,-1.122,-1.127,-1.135,-1.138,-1.127,
-1.115,-1.125,-1.136,-1.137,-1.132,-1.128,-1.119,-1.113,-1.116,-1.123,-1.129,-1.134,-1.136,-1.129,
-1.117,-1.127,-1.134,-1.138,-1.134,-1.126,-1.121,-1.116,-1.115,-1.121,-1.128,-1.136,-1.137,-1.127,
-1.117,-1.125,-1.135,-1.137,-1.133,-1.127,-1.120,-1.115,-1.116,-1.121,-1.128,-1.134,-1.137,-1.128,
-1.116,-1.126,-1.134,-1.138,-1.134,-1.126,-1.121,-1.114,-1.117,-1.122,-1.127,-1.135,-1.138,-1.127,
-1.115,-1.125,-1.136,-1.137,-1.132,-1.128,-1.119,-1.113,-1.116,-1.123,-1.129,-1.134,-1.136,-1.129,
-1.117,-1.127,-1.134,-1.138,-1.134,-1.126,-1.121,-1.116,-1.115,-1.121,-1.128,-1.136,-1.137,-1.127,
-1.117,-1.125,-1.135,-1.137,-1.133,-1.127,-1.120,-1.115,-1.116,-1.121,-1.128,-1.134,-1.137,-1.128,
-1.116,-1.126,-1.134,-1.138,-1.134,-1.126,-1.121,-1.114,-1.117,-1.122,-1.127,-1.135,-1.138,-1.127,
-1.116,-1.125,-1.135,-1.137,-1.133,-1.127,-1.119];
const fKin = [
0.0008,0.0097,0.0196,0.0214,0.0177,0.0121,0.0049,0.0009,0.0013,0.0061,0.0122,0.0191,0.0208,0.0123,
0.0004,0.0092,0.0192,0.0210,0.0183,0.0115,0.0056,0.0004,0.0008,0.0055,0.0128,0.0186,0.0213,0.0117,
0.0008,0.0097,0.0196,0.0214,0.0177,0.0121,0.0049,0.0009,0.0013,0.0061,0.0122,0.0191,0.0208,0.0123,
0.0004,0.0092,0.0192,0.0210,0.0183,0.0115,0.0056,0.0004,0.0008,0.0055,0.0128,0.0186,0.0213,0.0117,
0.0008,0.0097,0.0196,0.0214,0.0177,0.0121,0.0049,0.0009,0.0013,0.0061,0.0122,0.0191,0.0208,0.0123,
0.0004,0.0092,0.0192,0.0210,0.0183,0.0115,0.0056,0.0004,0.0008,0.0055,0.0128,0.0186,0.0213,0.0117,
0.0008,0.0097,0.0196,0.0214,0.0177,0.0121,0.0049,0.0009,0.0013,0.0061,0.0122,0.0191,0.0208,0.0123,
0.0004,0.0092,0.0192,0.0210,0.0183,0.0115,0.0056,0.0004,0.0008,0.0055,0.0128,0.0186,0.0213,0.0117,
0.0008,0.0097,0.0196,0.0214,0.0177,0.0121,0.0049,0.0009,0.0013,0.0061,0.0122,0.0191,0.0208,0.0123,
0.0004,0.0092,0.0192,0.0210,0.0183,0.0115,0.0056,0.0004,0.0008,0.0055,0.0128,0.0186,0.0213,0.0117,
0.0008,0.0097,0.0196,0.0214,0.0177,0.0121,0.0049,0.0009,0.0013,0.0061,0.0122,0.0191,0.0208,0.0123,
0.0004,0.0092,0.0192,0.0210,0.0183,0.0115,0.0056,0.0004,0.0008,0.0055,0.0128,0.0186,0.0213,0.0117,
0.0008,0.0097,0.0196,0.0214,0.0177,0.0121,0.0049,0.0009,0.0013,0.0061,0.0122,0.0191,0.0208,0.0123,
0.0004,0.0092,0.0192,0.0210,0.0183,0.0115,0.0056,0.0004,0.0008,0.0055,0.0128,0.0186,0.0213,0.0117,
0.0005,0.0094,0.0194,0.0211,0.0180,0.0116,0.0050];

// ---------------- LAYOUT ----------------
const W = 1369, H = 694;
const RED = "#ff6347", BLUE = "#87cefa";
const SERIF = "'Liberation Serif','DejaVu Serif',serif";
const SANS = "'Liberation Sans','DejaVu Sans',sans-serif";
const cols = [{x0:124, x1:477, dom:[-5.05,106.05]}, {x0:571.5, x1:927, dom:[-5,105]}, {x0:1001, x1:1360, dom:[-5.05,106.05]}];
const rows = [{y0:64, y1:324.5}, {y0:383, y1:645.5}];
const kinds = [
  {key:"tot", dom:[-1.131,-1.081], ticks:yTicksTot, sub:"tot"},
  {key:"pot", dom:[-1.1392,-1.0889], ticks:yTicksPot, sub:"pot"},
  {key:"kin", dom:[-0.0018,0.039], ticks:yTicksKin, sub:"kin"}];
const panelData = [
  {tot:aTot, pot:aPot, kin:aKin}, {tot:bTot, pot:bPot, kin:bKin}, {tot:cTot, pot:cPot, kin:cKin},
  {tot:dTot, pot:dPot, kin:dKin}, {tot:eTot, pot:ePot, kin:eKin}, {tot:fTot, pot:fPot, kin:fKin}];
const exactData = {tot:exactTot, pot:exactPot, kin:exactKin};

const svg = d3.select("body").append("svg").attr("width", W).attr("height", H)
  .style("font-family", SERIF);
const defs = svg.append("defs");
let clipId = 0;

function fmtTick(v){ return d3.format(".3f")(v).replace("\u2212","-"); }

function mathE(g, x, y, sub, sup){
  g.append("text").attr("x", x).attr("y", y).style("font-style","italic").style("font-size","17px").text("E");
  g.append("text").attr("x", x+11).attr("y", y+4.5).style("font-style","italic").style("font-size","12px").text(sub);
  if (sup) g.append("text").attr("x", x+11).attr("y", y-7.5).style("font-style","italic").style("font-size","12px").text(sup);
}

panelData.forEach((pd, pi) => {
  const col = cols[pi % 3], row = rows[Math.floor(pi/3)];
  const x = d3.scaleLinear().domain(col.dom).range([col.x0, col.x1]);
  const hSub = (row.y1 - row.y0) / 3;
  kinds.forEach((k, ki) => {
    const top = row.y0 + ki*hSub, bot = top + hSub;
    const y = d3.scaleLinear().domain(k.dom).range([bot, top]);
    const id = "clip" + (clipId++);
    defs.append("clipPath").attr("id", id).append("rect")
      .attr("x", col.x0).attr("y", top).attr("width", col.x1-col.x0).attr("height", hSub);
    const g = svg.append("g").attr("clip-path", `url(#${id})`);
    const series = [
      {vals: pd[k.key], color: RED, r: 2.7, w: 1.2},
      {vals: exactData[k.key], color: BLUE, r: 1.4, w: 1.2}];
    series.forEach(s => {
      const pts = s.vals.map((v, i) => [i*dt, v]);
      const line = d3.line().x(d => x(d[0])).y(d => y(d[1]));
      g.append("path").datum(pts).attr("d", line).attr("fill","none")
        .attr("stroke", s.color).attr("stroke-width", s.w).attr("stroke-dasharray","3,2");
      g.selectAll(null).data(pts).enter().append("circle")
        .attr("cx", d => x(d[0])).attr("cy", d => y(d[1])).attr("r", s.r).attr("fill", s.color);
    });
    svg.append("rect").attr("x", col.x0).attr("y", top).attr("width", col.x1-col.x0).attr("height", hSub)
      .attr("fill","none").attr("stroke","#222").attr("stroke-width",1);
    const ya = svg.append("g").attr("transform", `translate(${col.x0},0)`)
      .call(d3.axisLeft(y).tickValues(k.ticks).tickFormat(fmtTick).tickSize(4).tickPadding(3));
    ya.select(".domain").remove();
    ya.selectAll("text").style("font-family", SERIF).style("font-size","19px").attr("fill","#111");
    ya.selectAll("line").attr("stroke","#222");
    if (ki === 2) {
      const xa = svg.append("g").attr("transform", `translate(0,${bot})`)
        .call(d3.axisBottom(x).tickValues(xTicks).tickFormat(d3.format("d")).tickSize(4).tickPadding(3));
      xa.select(".domain").remove();
      xa.selectAll("text").style("font-family", SERIF).style("font-size","19px").attr("fill","#111");
      xa.selectAll("line").attr("stroke","#222");
    }
    const lg = svg.append("g");
    const ly = top + 24.5, R = col.x1;
    [[R-225, R-190, RED, 2.7, R-174, null], [R-111, R-75, BLUE, 1.6, R-60, "exact"]].forEach(L => {
      lg.append("line").attr("x1", L[0]).attr("x2", L[1]).attr("y1", ly).attr("y2", ly)
        .attr("stroke", L[2]).attr("stroke-width", 1.2).attr("stroke-dasharray","3,2");
      lg.append("circle").attr("cx", (L[0]+L[1])/2).attr("cy", ly).attr("r", L[3]).attr("fill", L[2]);
      mathE(lg, L[4], ly+6, k.sub, L[5]);
    });
  });
});

// panel labels
const plPos = [[15,57],[509,57],[946,57],[15,388],[509,372],[946,372]];
panelLabels.forEach((t, i) => svg.append("text").attr("x", plPos[i][0]).attr("y", plPos[i][1])
  .attr("textLength", 35).attr("lengthAdjust","spacing")
  .style("font-size","26px").text(t));
// column titles
const titleW = [183, 254, 224];
[283, 735, 1160].forEach((cx, i) => svg.append("text").attr("x", cx - titleW[i]/2).attr("y", 31)
  .attr("textLength", titleW[i]).attr("lengthAdjust","spacing")
  .style("font-size","21px").text(colTitles[i]));
// row titles and y labels
const rowCenters = [209, 490], ylCenters = [200, 520];
rowTitles.forEach((rt, i) => {
  svg.append("text").attr("transform", `translate(26,${rowCenters[i]}) rotate(-90)`).attr("text-anchor","middle")
    .style("font-size","22px").text(rt);
  const yl = svg.append("text").attr("transform", `translate(52,${ylCenters[i]}) rotate(-90)`).attr("text-anchor","middle")
    .style("font-size","18px");
  yl.append("tspan").style("font-style","italic").text("E");
  yl.append("tspan").style("font-family", SANS).text(" [Ha]");
});
// x labels
cols.forEach(c => {
  const xl = svg.append("text").attr("x", (c.x0 + c.x1)/2).attr("y", 690).attr("text-anchor","middle")
    .style("font-size","18px");
  xl.append("tspan").style("font-style","italic").text("t");
  xl.append("tspan").style("font-family", SANS).text(" [fs]");
});
</script>
</body></html>
